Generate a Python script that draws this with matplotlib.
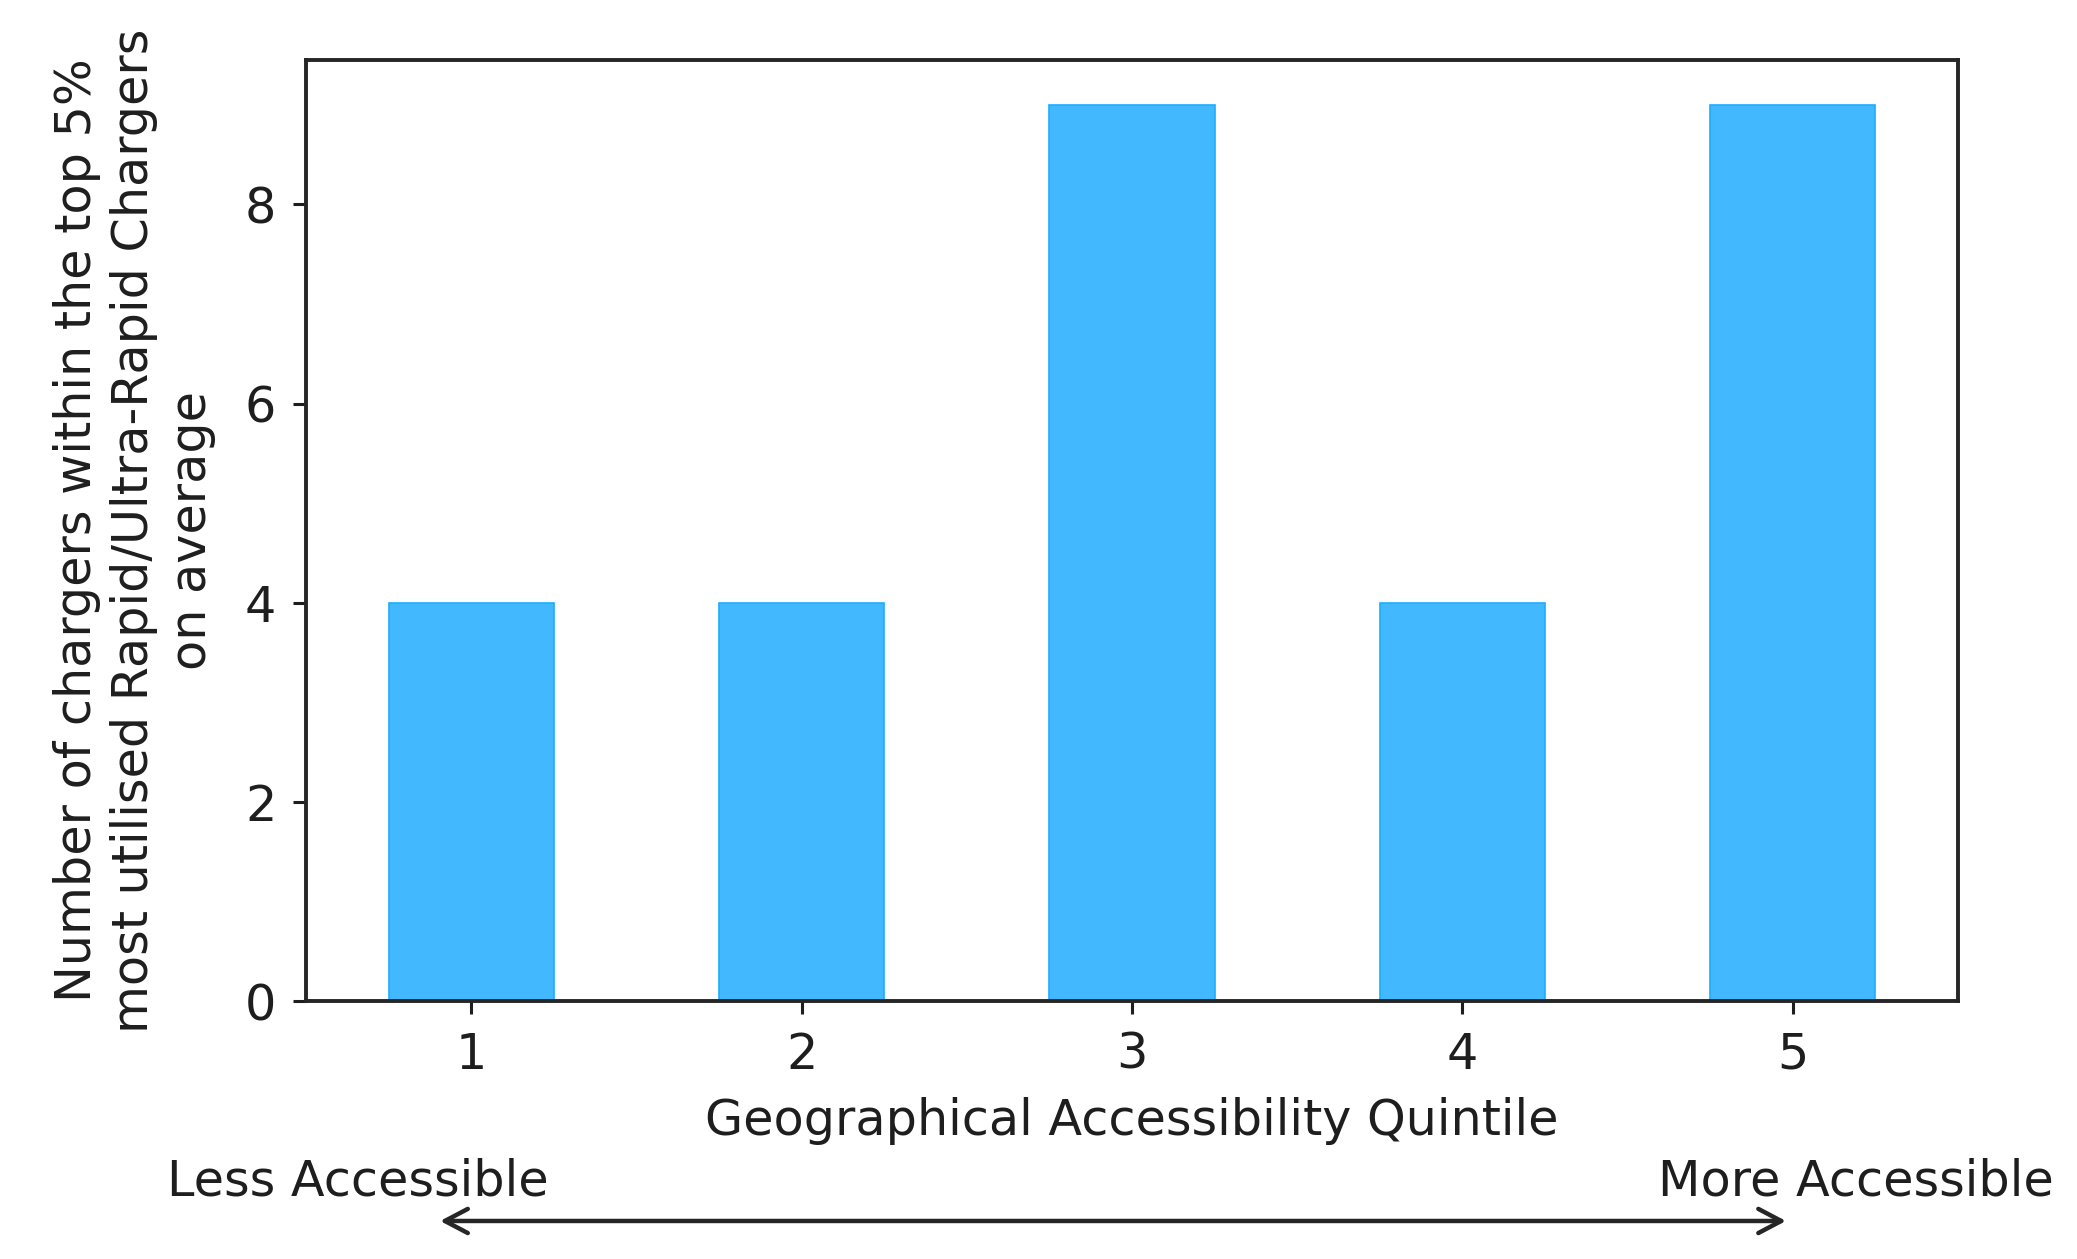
import matplotlib
matplotlib.use("Agg")
import matplotlib.pyplot as plt

# Data
quintiles = ["1", "2", "3", "4", "5"]
counts = [4, 4, 9, 4, 9]
yticks = [0, 2, 4, 6, 8]

xlabel = "Geographical Accessibility Quintile"
ylabel = "Number of chargers within the top 5%\nmost utilised Rapid/Ultra-Rapid Chargers\non average"
left_note = "Less Accessible"
right_note = "More Accessible"

plt.rcParams['font.family'] = ['DejaVu Sans']
FS = 35.5
TXT = "#1e1e1e"

fig = plt.figure(figsize=(20.77, 12.59), dpi=100)
ax = fig.add_axes([0.1473, 0.2049, 0.7954, 0.7474])

pos = list(range(1, len(quintiles) + 1))
ax.bar(pos, counts, width=0.5, color="#41b8ff", edgecolor="#1aaeff", linewidth=1.2)

ax.set_xlim(0.5, len(quintiles) + 0.5)
ax.set_ylim(0, 9.45)
ax.set_xticks(pos)
ax.set_xticklabels(quintiles)
ax.set_yticks(yticks)

for s in ax.spines.values():
    s.set_linewidth(2.8)
    s.set_color("#262626")
ax.tick_params(axis="both", length=9.4, width=2.2, pad=12, labelsize=FS, colors=TXT)

ax.set_xlabel(xlabel, fontsize=FS, labelpad=13, color=TXT)
ax.set_ylabel(ylabel, fontsize=FS, labelpad=21, color=TXT, linespacing=1.25)

fig.text(0.1724, 0.0612, left_note, fontsize=FS, ha="center", va="center", color=TXT)
fig.text(0.8937, 0.0612, right_note, fontsize=FS, ha="center", va="center", color=TXT)

ax.annotate("", xy=(0.8599, 0.0302), xycoords="figure fraction",
            xytext=(0.2119, 0.0302), textcoords="figure fraction",
            arrowprops=dict(arrowstyle="<->,head_length=0.55,head_width=0.29",
                            lw=3.2, color="#262626", mutation_scale=30,
                            shrinkA=0, shrinkB=0))

fig.savefig("out.png", dpi=100, facecolor="white")
